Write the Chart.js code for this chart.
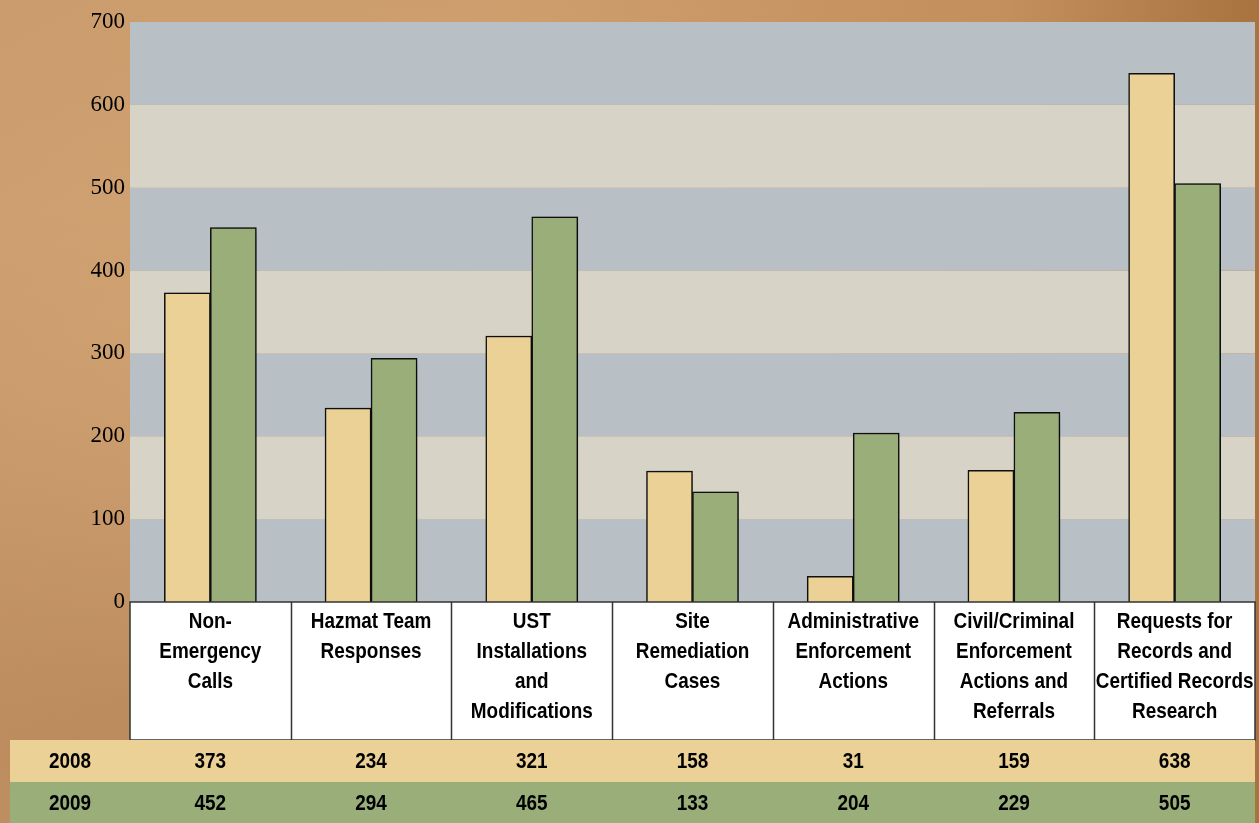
<!DOCTYPE html>
<html>
<head>
<meta charset="utf-8">
<script src="https://cdn.jsdelivr.net/npm/chart.js@4"></script>
<style>
  html, body { margin: 0; padding: 0; }
  body {
    width: 1259px; height: 823px; overflow: hidden;
    background:
      radial-gradient(ellipse at 20% 40%, rgba(214,168,120,0.6), rgba(214,168,120,0) 60%),
      radial-gradient(ellipse at 10% 85%, rgba(150,100,60,0.3), rgba(150,100,60,0) 50%),
      linear-gradient(90deg, #c99a6b 0%, #cd9d6c 40%, #c38f5c 80%, #a97340 100%);
  }
  canvas { display: block; }
</style>
</head>
<body>
<canvas id="chart" width="1259" height="823"></canvas>
<script>
const categories = [
  ["Non-", "Emergency", "Calls"],
  ["Hazmat Team", "Responses"],
  ["UST", "Installations", "and", "Modifications"],
  ["Site", "Remediation", "Cases"],
  ["Administrative", "Enforcement", "Actions"],
  ["Civil/Criminal", "Enforcement", "Actions and", "Referrals"],
  ["Requests for", "Records and", "Certified Records", "Research"]
];
const years = ["2008", "2009"];
const values2008 = [373, 234, 321, 158, 31, 159, 638];
const values2009 = [452, 294, 465, 133, 204, 229, 505];
const yTicks = [0, 100, 200, 300, 400, 500, 600, 700];

const colors = ["#ebd196", "#9aae7a"];
const bandColors = ["#b8c0c6", "#d7d3c7"];
const tableFont = "bold 22px 'Liberation Sans', Arial, sans-serif";

// narrow bold text, like Arial Narrow
function narrowText(ctx, t, x, y) {
  ctx.save();
  ctx.translate(x, y);
  ctx.scale(0.86, 1);
  ctx.fillText(t, 0, 0);
  ctx.restore();
}

// striped background behind the bars
const bands = {
  id: "bands",
  beforeDatasetsDraw(chart) {
    const { ctx, chartArea: a, scales: { y } } = chart;
    ctx.save();
    for (let i = 0; i < yTicks.length - 1; i++) {
      const top = y.getPixelForValue(yTicks[i + 1]);
      const bot = y.getPixelForValue(yTicks[i]);
      ctx.fillStyle = bandColors[i % 2];
      ctx.fillRect(a.left, top, a.right - a.left, bot - top);
    }
    ctx.restore();
    ctx.save();
    ctx.shadowColor = "rgba(0,0,0,0.45)";
    ctx.shadowBlur = 10;
    ctx.shadowOffsetX = 3;
    ctx.shadowOffsetY = 2;
  },
  afterDatasetsDraw(chart) {
    chart.ctx.restore();
  }
};

// data table under the plot
const table = {
  id: "table",
  afterDraw(chart) {
    const { ctx, chartArea: a, scales: { x } } = chart;
    const n = categories.length;
    const w = (a.right - a.left) / n;
    const headTop = a.bottom, headBot = 740;
    const rowH = [[740, 782], [782, 823]];
    ctx.save();
    ctx.fillStyle = "#ffffff";
    ctx.fillRect(a.left, headTop, a.right - a.left, headBot - headTop);
    ctx.strokeStyle = "#333";
    ctx.lineWidth = 1.5;
    ctx.strokeRect(a.left, headTop, a.right - a.left, headBot - headTop);
    for (let i = 1; i < n; i++) {
      const px = Math.round(a.left + i * w) + 0.5;
      ctx.beginPath();
      ctx.moveTo(px, headTop);
      ctx.lineTo(px, headBot);
      ctx.stroke();
    }
    ctx.font = tableFont;
    ctx.fillStyle = "#000";
    ctx.textAlign = "center";
    ctx.textBaseline = "middle";
    categories.forEach((lines, i) => {
      const cx = x.getPixelForValue(i);
      lines.forEach((t, j) => narrowText(ctx, t, cx, 622 + j * 30));
    });
    [values2008, values2009].forEach((vals, r) => {
      const [t, b] = rowH[r];
      ctx.fillStyle = colors[r];
      ctx.fillRect(10, t, a.right - 10, b - t);
      ctx.fillStyle = "#000";
      const cy = (t + b) / 2 + 1;
      narrowText(ctx, years[r], 70, cy);
      vals.forEach((v, i) => narrowText(ctx, String(v), x.getPixelForValue(i), cy));
    });
    ctx.restore();
  }
};

new Chart(document.getElementById("chart"), {
  type: "bar",
  data: {
    labels: categories,
    datasets: [
      { label: years[0], data: values2008, backgroundColor: colors[0] },
      { label: years[1], data: values2009, backgroundColor: colors[1] }
    ]
  },
  options: {
    responsive: false,
    animation: false,
    layout: { padding: { top: 22, right: 4, bottom: 221, left: 0 } },
    datasets: {
      bar: { barThickness: 46, borderColor: "#111", borderWidth: 1.5 }
    },
    plugins: {
      legend: { display: false },
      tooltip: { enabled: false }
    },
    scales: {
      x: { display: false },
      y: {
        min: 0,
        max: 700,
        afterFit(scale) { scale.width = 130; },
        afterBuildTicks(scale) { scale.ticks = yTicks.map(v => ({ value: v })); },
        grid: { display: false, drawTicks: false },
        border: { display: false },
        ticks: {
          color: "#000",
          padding: 5,
          font: { family: "'Liberation Serif', 'Times New Roman', serif", size: 23 }
        }
      }
    }
  },
  plugins: [bands, table]
});
</script>
</body>
</html>
